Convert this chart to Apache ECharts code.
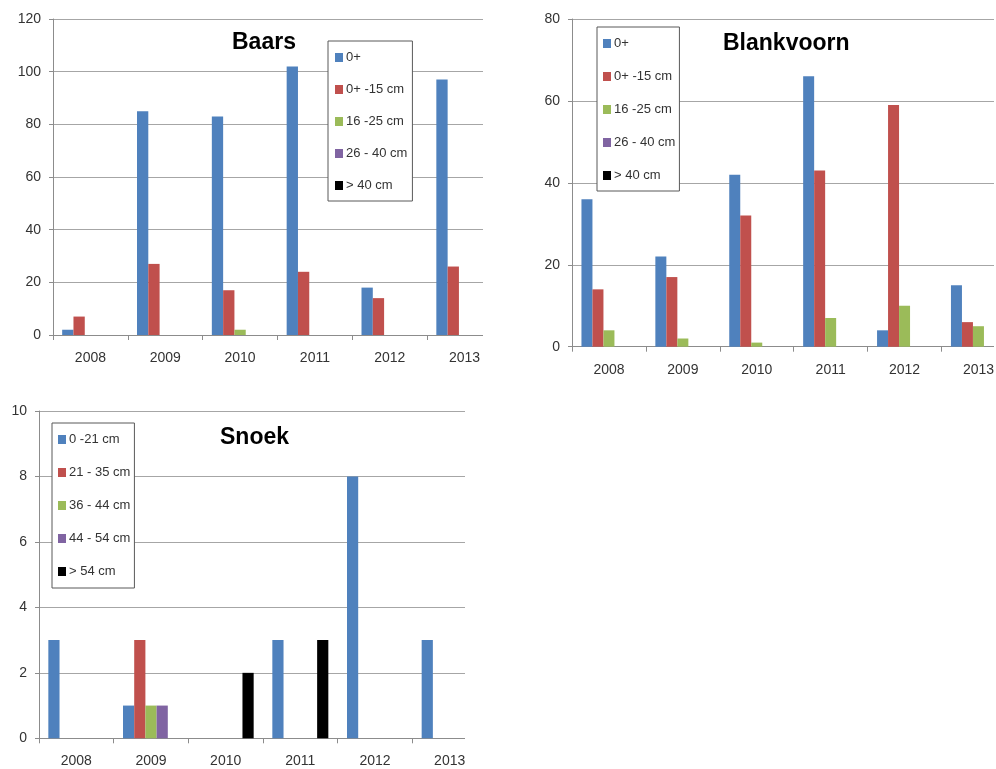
<!DOCTYPE html>
<html>
<head>
<meta charset="utf-8">
<script src="https://cdn.jsdelivr.net/npm/echarts@6/dist/echarts.min.js"></script>
<style>
  html, body { margin: 0; padding: 0; background: #fff; }
  body { width: 996px; height: 769px; position: relative; overflow: hidden; }
  .panel { position: absolute; overflow: hidden; }
</style>
</head>
<body>
<div id="baars" class="panel" style="left:0;top:0;width:483px;height:370px"></div>
<div id="blankvoorn" class="panel" style="left:500px;top:0;width:494px;height:390px"></div>
<div id="snoek" class="panel" style="left:0;top:390px;width:465px;height:379px"></div>
<script>
// Years surveyed
const years = ['2008', '2009', '2010', '2011', '2012', '2013'];

// Baars (perch) catches per length class
const baarsClasses = ['0+', '0+ -15 cm', '16 -25 cm', '26 - 40 cm', '> 40 cm'];
const baars0 = [2, 85, 83, 102, 18, 97];
const baars0to15 = [7, 27, 17, 24, 14, 26];
const baars16to25 = [0, 0, 2, 0, 0, 0];
const baars26to40 = [0, 0, 0, 0, 0, 0];
const baarsOver40 = [0, 0, 0, 0, 0, 0];

// Blankvoorn (roach) catches per length class
const blankClasses = ['0+', '0+ -15 cm', '16 -25 cm', '26 - 40 cm', '> 40 cm'];
const blank0 = [36, 22, 42, 66, 4, 15];
const blank0to15 = [14, 17, 32, 43, 59, 6];
const blank16to25 = [4, 2, 1, 7, 10, 5];
const blank26to40 = [0, 0, 0, 0, 0, 0];
const blankOver40 = [0, 0, 0, 0, 0, 0];

// Snoek (pike) catches per length class
const snoekClasses = ['0 -21 cm', '21 - 35 cm', '36 - 44 cm', '44 - 54 cm', '> 54 cm'];
const snoek0to21 = [3, 1, 0, 3, 8, 3];
const snoek21to35 = [0, 3, 0, 0, 0, 0];
const snoek36to44 = [0, 1, 0, 0, 0, 0];
const snoek44to54 = [0, 1, 0, 0, 0, 0];
const snoekOver54 = [0, 0, 2, 3, 0, 0];

const palette = ['#4F81BD', '#C0504D', '#9BBB59', '#8064A2', '#000000'];
const FONT = '"Liberation Sans", Arial, sans-serif';

function buildOption(cfg) {
  return {
    animation: false,
    color: palette,
    textStyle: { fontFamily: FONT },
    title: {
      text: cfg.title,
      left: cfg.titleLeft,
      top: cfg.titleTop,
      padding: 0,
      textStyle: { fontFamily: FONT, fontSize: 23, fontWeight: 'bold', color: '#000' }
    },
    legend: {
      orient: 'vertical',
      left: cfg.legendLeft,
      top: cfg.legendTop,
      data: cfg.classes,
      itemWidth: 8,
      itemHeight: 9,
      itemGap: cfg.legendGap,
      icon: 'rect',
      backgroundColor: '#fff',
      borderColor: '#595959',
      borderWidth: 1,
      borderRadius: 0,
      padding: cfg.legendPadding,
      selectedMode: false,
      textStyle: { fontFamily: FONT, fontSize: 13, color: '#333', padding: [0, 0, 0, -2] }
    },
    grid: {
      left: cfg.gridLeft,
      top: cfg.gridTop,
      width: cfg.gridWidth,
      height: cfg.gridHeight,
      containLabel: false,
      outerBoundsMode: 'none'
    },
    xAxis: {
      type: 'category',
      data: years,
      boundaryGap: true,
      axisLine: { lineStyle: { color: '#8c8c8c', width: 1 } },
      axisTick: { show: true, length: 5, alignWithLabel: false, lineStyle: { color: '#8c8c8c' } },
      axisLabel: { fontFamily: FONT, fontSize: 14, color: '#333', margin: 16 },
      splitLine: { show: false }
    },
    yAxis: {
      type: 'value',
      min: 0,
      max: cfg.yMax,
      interval: cfg.yStep,
      axisLine: { show: true, lineStyle: { color: '#8c8c8c', width: 1 } },
      axisTick: { show: true, length: 4, lineStyle: { color: '#8c8c8c' } },
      axisLabel: { fontFamily: FONT, fontSize: 14, color: '#333', margin: 12 },
      splitLine: { show: true, lineStyle: { color: '#a6a6a6', width: 1 } }
    },
    series: cfg.classes.map((name, i) => ({
      name: name,
      type: 'bar',
      data: cfg.values[i],
      barWidth: cfg.barWidth,
      barGap: '0%',
      itemStyle: { color: palette[i] }
    }))
  };
}

echarts.init(document.getElementById('baars'), null, { renderer: 'canvas' }).setOption(buildOption({
  title: 'Baars', titleLeft: 232, titleTop: 31,
  classes: baarsClasses,
  values: [baars0, baars0to15, baars16to25, baars26to40, baarsOver40],
  legendLeft: 328, legendTop: 41, legendGap: 19, legendPadding: [10, 5, 9, 7],
  gridLeft: 53, gridTop: 19, gridWidth: 449, gridHeight: 316,
  yMax: 120, yStep: 20, barWidth: 11.3
}));

echarts.init(document.getElementById('blankvoorn'), null, { renderer: 'canvas' }).setOption(buildOption({
  title: 'Blankvoorn', titleLeft: 223, titleTop: 32,
  classes: blankClasses,
  values: [blank0, blank0to15, blank16to25, blank26to40, blankOver40],
  legendLeft: 97, legendTop: 27, legendGap: 20, legendPadding: [10, 4, 9, 6],
  gridLeft: 72, gridTop: 19, gridWidth: 443.4, gridHeight: 327.7,
  yMax: 80, yStep: 20, barWidth: 11
}));

echarts.init(document.getElementById('snoek'), null, { renderer: 'canvas' }).setOption(buildOption({
  title: 'Snoek', titleLeft: 220, titleTop: 36,
  classes: snoekClasses,
  values: [snoek0to21, snoek21to35, snoek36to44, snoek44to54, snoekOver54],
  legendLeft: 52, legendTop: 33, legendGap: 20, legendPadding: [10, 4, 10, 6],
  gridLeft: 39, gridTop: 21, gridWidth: 448, gridHeight: 327.3,
  yMax: 10, yStep: 2, barWidth: 11.2
}));
</script>
</body>
</html>
